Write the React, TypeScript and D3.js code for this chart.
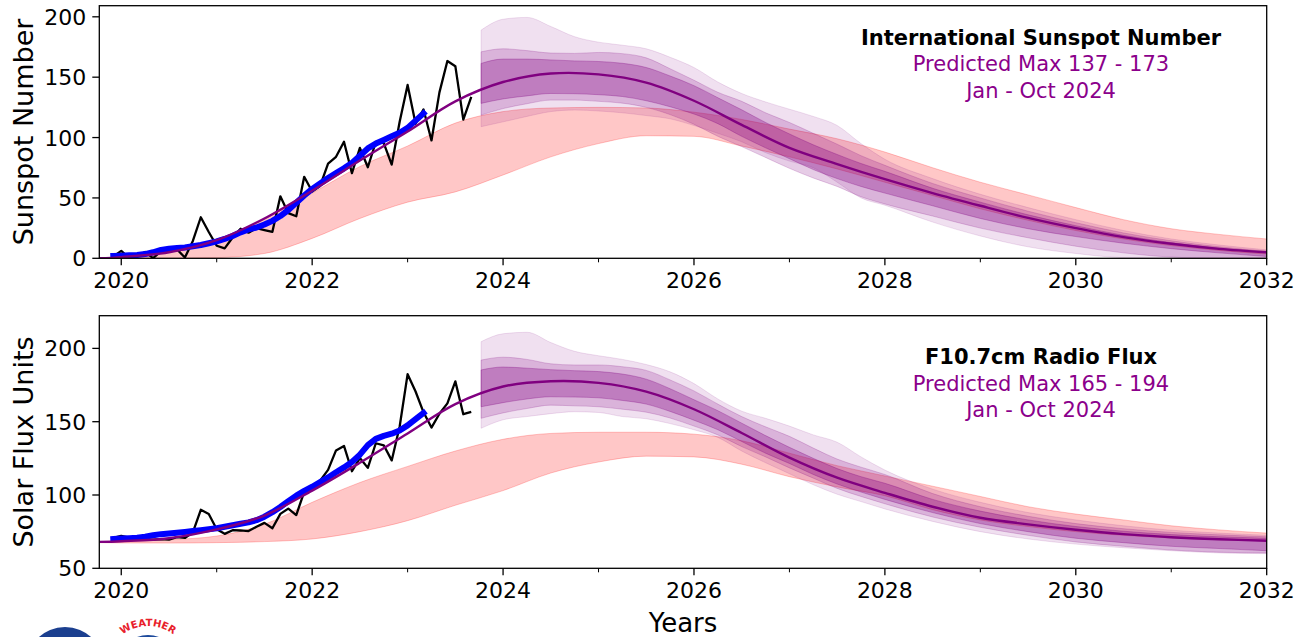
import React from "react";
import * as d3 from "d3";

const W = 1301;
const H = 637;

// observed months, Dec 2019 - Sep 2023
const obsMonths = [
  "2019-12",
  "2020-01", "2020-02", "2020-03", "2020-04", "2020-05", "2020-06",
  "2020-07", "2020-08", "2020-09", "2020-10", "2020-11", "2020-12",
  "2021-01", "2021-02", "2021-03", "2021-04", "2021-05", "2021-06",
  "2021-07", "2021-08", "2021-09", "2021-10", "2021-11", "2021-12",
  "2022-01", "2022-02", "2022-03", "2022-04", "2022-05", "2022-06",
  "2022-07", "2022-08", "2022-09", "2022-10", "2022-11", "2022-12",
  "2023-01", "2023-02", "2023-03", "2023-04", "2023-05", "2023-06",
  "2023-07", "2023-08", "2023-09",
];
const ssnMonthly = [
  1.5,
  6.2, 0.2, 1.5, 5.2, 0.2, 5.8, 6.1, 7.5, 0.6, 14.4, 34.0, 21.8,
  10.4, 8.2, 17.2, 24.5, 21.2, 25.0, 23.4, 21.9, 51.3, 37.4, 34.8, 67.5,
  55.3, 59.9, 78.5, 84.1, 96.5, 70.5, 91.4, 75.4, 96.3, 95.4, 77.6, 113.1,
  143.6, 111.4, 123.3, 97.6, 137.4, 163.4, 159.1, 114.8, 133.6,
];
const fluxMonthly = [
  70.7,
  72.1, 70.9, 70.2, 69.7, 69.5, 69.9, 69.5, 71.2, 70.7, 74.5, 89.9, 87.1,
  76.7, 73.5, 76.0, 75.8, 75.4, 78.3, 81.0, 77.3, 87.1, 90.7, 86.3, 102.2,
  105.1, 109.8, 117.1, 130.4, 133.5, 116.2, 125.2, 118.5, 135.3, 133.9, 123.6, 146.7,
  182.4, 170.6, 156.4, 146.0, 155.4, 162.5, 177.5, 155.1, 156.7,
];
// 13-month smoothed, Dec 2019 - Mar 2023
const ssnSmoothed = [
  2.0,
  2.2, 2.5, 2.8, 3.5, 5.0, 7.0, 8.0, 8.5, 9.0, 10.0, 11.0, 12.5,
  14.0, 16.0, 18.5, 21.5, 24.0, 25.5, 28.0, 31.0, 35.0, 40.0, 46.0, 52.0,
  57.5, 62.0, 66.5, 70.5, 74.5, 79.0, 85.0, 91.0, 95.0, 98.0, 101.0, 104.0,
  108.0, 114.0, 120.0,
];
const fluxSmoothed = [
  70.0,
  70.3, 70.5, 70.8, 71.5, 72.5, 73.3, 73.8, 74.3, 74.8, 75.4, 76.0, 76.6,
  77.3, 78.3, 79.4, 80.4, 81.3, 82.8, 85.2, 88.3, 91.8, 95.8, 99.6, 102.8,
  105.6, 108.8, 112.0, 115.5, 118.8, 122.5, 127.5, 134.0, 138.3, 140.3, 141.8, 144.0,
  147.5, 151.8, 156.0,
];

// predicted median and NOAA panel range
const curveYears = [
  2019.77, 2020, 2020.5, 2021, 2021.5, 2022, 2022.5, 2023, 2023.5, 2024, 2024.5,
  2025, 2025.5, 2026, 2026.5, 2027, 2027.5, 2028, 2028.5, 2029, 2029.5, 2030,
  2030.5, 2031, 2031.5, 2032,
];
const ssnMedian = [
  0, 1, 5, 15, 33, 56, 81, 105, 130, 146, 153, 152.3, 145.5, 130.5, 110.5, 91.5,
  78, 65.5, 54, 43.5, 33.5, 25, 17.5, 12, 7.8, 5,
];
const ssnPanelHi = [
  0, 1, 5, 15, 32.5, 54, 76, 93, 112, 121.5, 124.5, 125, 124.5, 121, 115, 107,
  99, 88, 75, 63, 52.5, 42, 32, 24.5, 19.8, 16,
];
const ssnPanelLo = [
  0, 0, 0, 0.5, 4, 16.5, 33, 46.5, 55, 69, 84, 95, 101.5, 101, 93, 84, 74, 63,
  52, 41, 31.5, 23, 16, 10.5, 6.5, 3.5,
];
const fluxMedian = [
  68, 68.5, 70.5, 76.5, 86, 103, 122, 142, 162, 174, 177.6, 176.5, 170.5, 158.5,
  142.3, 125.5, 111.8, 101.5, 92, 84.5, 80, 76.3, 73.3, 71.2, 69.8, 68.8,
];
const fluxPanelHi = [
  67.8, 68.2, 69.5, 72, 80, 95, 108.5, 119.5, 130, 138, 142, 142.8, 142.8, 141.5,
  137, 128.5, 120, 113, 106, 99, 92, 87, 83, 79, 76.2, 74,
];
const fluxPanelLo = [
  67.5, 67.3, 67.2, 67.5, 68.2, 70, 75, 82.5, 93, 103, 115, 122.5, 126.5, 126,
  121, 112.5, 105.5, 99.5, 90, 83, 78.5, 75, 72.5, 70.7, 69.5, 68.8,
];

// prediction quantile bands
const bandYears = [
  2023.77, 2024, 2024.25, 2024.5, 2024.75, 2025, 2025.25, 2025.5, 2025.75, 2026,
  2026.25, 2026.5, 2026.75, 2027, 2027.25, 2027.5, 2027.75, 2028, 2028.5, 2029,
  2029.5, 2030, 2030.5, 2031, 2031.5, 2032,
];
const ssnOuterHi = [
  189, 198, 199.5, 192, 183.5, 179, 176.5, 173.5, 166.5, 158, 146, 136.5, 129.5,
  123.5, 117.5, 110, 95, 82, 66, 53, 42, 32, 23, 16, 11, 7,
];
const ssnMidHi = [
  171, 173.5, 172, 170, 169.7, 170.5, 169.5, 166, 157, 147.5, 137.5, 130, 120.5,
  112.5, 103.5, 94.5, 85, 77, 62, 50, 39, 29.5, 21, 14.5, 9.5, 6,
];
const ssnInnerHi = [
  161.4, 165, 165, 164.3, 163.5, 163, 161.5, 158, 151, 143, 133, 123, 112.5, 103,
  94, 86, 78.5, 72, 58, 46.5, 36, 27, 19, 13, 8.5, 5.5,
];
const ssnInnerLo = [
  128.3, 132, 134.5, 136.5, 136.3, 135.5, 134, 130.5, 125.5, 119.5, 111.5, 101,
  91.5, 82.5, 73.5, 66, 59.5, 54, 43.5, 33, 24.5, 18, 12.5, 8, 4.5, 1.5,
];
const ssnMidLo = [
  118.6, 124, 128, 131, 131, 130, 128.5, 125, 119, 111, 101, 92.5, 83.5, 74.5,
  66.5, 59.5, 51, 45, 35, 25, 17, 10, 4.5, 1, 0, 0,
];
const ssnOuterLo = [
  109, 113, 117.5, 121.5, 122.8, 122, 120.5, 118.2, 115.5, 110, 103.5, 96.5,
  87.5, 80.5, 75, 63, 50, 44, 30, 18.5, 9.5, 4, 0.5, 0, 0, 0,
];
const fluxOuterHi = [
  204.6, 210, 211, 204, 198, 195, 192.5, 189, 184, 176, 165.5, 157.2, 152.3, 147,
  141, 136, 126, 117, 104, 95, 88, 83, 79, 76, 74, 72.5,
];
const fluxMidHi = [
  192, 194, 192.5, 189.5, 188.7, 188.7, 187.5, 185, 178.5, 171, 162, 153.5,
  146.5, 140, 132, 124.5, 119, 114, 101, 92, 85.5, 80.5, 77, 74.5, 72.8, 71.5,
];
const fluxInnerHi = [
  185.3, 187.3, 186.5, 185.5, 184.8, 184.2, 182.5, 179, 172.5, 165, 157.5, 149,
  140.5, 132.5, 125, 118, 112.5, 108, 97, 89, 83, 78.5, 75.3, 73, 71.5, 70.5,
];
const fluxInnerLo = [
  160.2, 163, 165.5, 167, 166.8, 166.3, 164.5, 162, 157, 151, 144.5, 136.5,
  128.5, 121.5, 114, 107.5, 102, 97, 88, 80.5, 75, 70.5, 67.5, 65, 63.5, 62,
];
const fluxMidLo = [
  152.3, 156, 159, 161.3, 160.8, 160.2, 158.5, 156.5, 152.5, 147, 141, 133, 126,
  118.5, 111.5, 104.5, 99, 94, 85, 78, 72.5, 68, 65, 62.5, 61, 60.5,
];
const fluxOuterLo = [
  145.5, 151.3, 153.5, 155.5, 156.8, 156.3, 153.5, 152, 148.7, 144.5, 139.3, 130,
  122, 114.5, 107, 100.5, 95.5, 90.5, 82, 75, 70, 66.5, 64, 62, 60.5, 60,
];

// axes
const xMajor = [2020, 2022, 2024, 2026, 2028, 2030, 2032];
const xMinor = [2021, 2023, 2025, 2027, 2029, 2031];
const ssnTicks = [0, 50, 100, 150, 200];
const fluxTicks = [50, 100, 150, 200];

const FONT = "'DejaVu Sans', sans-serif";
const PURPLE = "#800080";
const TEXT_PURPLE = "#8b008b";

const toYear = (s: string) => {
  const [yy, mm] = s.split("-").map(Number);
  return yy + (mm - 1) / 12;
};
const obsYears = obsMonths.map(toYear);
const smoothYears = obsYears.slice(0, ssnSmoothed.length);

const x = d3.scaleLinear().domain([2019.77, 2032]).range([99.3, 1266.7]);

type Band = { lo: number[]; hi: number[]; op: number };

type PanelProps = {
  id: string;
  y: d3.ScaleLinear<number, number>;
  ticks: number[];
  label: string;
  title: string;
  maxText: string;
  textY: number;
  obs: number[];
  smooth: number[];
  median: number[];
  panelLo: number[];
  panelHi: number[];
  bands: Band[];
};

const Panel = ({
  id, y, ticks, label, title, maxText, textY, obs, smooth, median,
  panelLo, panelHi, bands,
}: PanelProps) => {
  const [left, right] = x.range();
  const [bottom, top] = y.range();

  const straight = d3
    .line<[number, number]>()
    .x((d) => x(d[0]))
    .y((d) => y(d[1]));
  const smoothCurve = d3
    .line<[number, number]>()
    .x((d) => x(d[0]))
    .y((d) => y(d[1]))
    .curve(d3.curveCatmullRom.alpha(0.5));
  const area = (yrs: number[], lo: number[], hi: number[]) =>
    d3
      .area<number>()
      .x((d) => x(d))
      .y0((_, i) => y(lo[i]))
      .y1((_, i) => y(hi[i]))
      .curve(d3.curveMonotoneX)(yrs) || "";

  const zip = (xs: number[], vs: number[]) =>
    vs.map((v, i) => [xs[i], v] as [number, number]);

  return (
    <g>
      <defs>
        <clipPath id={id}>
          <rect x={left} y={top} width={right - left} height={bottom - top} />
        </clipPath>
      </defs>
      <g clipPath={`url(#${id})`}>
        <path
          d={area(curveYears, panelLo, panelHi)}
          fill="red"
          fillOpacity={0.22}
          stroke="red"
          strokeOpacity={0.22}
          strokeWidth={1}
        />
        {bands.map((b, i) => (
          <path
            key={i}
            d={area(bandYears, b.lo, b.hi)}
            fill={PURPLE}
            fillOpacity={b.op}
            stroke={PURPLE}
            strokeOpacity={b.op}
            strokeWidth={1}
          />
        ))}
        <path
          d={straight(zip(obsYears, obs)) || ""}
          fill="none"
          stroke="#000"
          strokeWidth={2.3}
          strokeLinejoin="round"
        />
        <path
          d={straight(zip(smoothYears, smooth)) || ""}
          fill="none"
          stroke="#0000ff"
          strokeWidth={6}
          strokeLinejoin="round"
          strokeLinecap="square"
        />
        <path
          d={smoothCurve(zip(curveYears, median)) || ""}
          fill="none"
          stroke={PURPLE}
          strokeWidth={2.4}
        />
      </g>
      <rect
        x={left}
        y={top}
        width={right - left}
        height={bottom - top}
        fill="none"
        stroke="#000"
        strokeWidth={1.3}
      />
      {xMajor.map((t) => (
        <g key={t}>
          <line x1={x(t)} x2={x(t)} y1={bottom} y2={bottom + 7} stroke="#000" strokeWidth={1.3} />
          <text
            x={x(t)}
            y={bottom + 30}
            textAnchor="middle"
            fontFamily={FONT}
            fontSize={22}
            fill="#000"
          >
            {t}
          </text>
        </g>
      ))}
      {xMinor.map((t) => (
        <line key={t} x1={x(t)} x2={x(t)} y1={bottom} y2={bottom + 4} stroke="#000" strokeWidth={1} />
      ))}
      {ticks.map((t) => (
        <g key={t}>
          <line x1={left - 7} x2={left} y1={y(t)} y2={y(t)} stroke="#000" strokeWidth={1.3} />
          <text
            x={left - 13}
            y={y(t) + 8}
            textAnchor="end"
            fontFamily={FONT}
            fontSize={22}
            fill="#000"
          >
            {t}
          </text>
        </g>
      ))}
      <text
        transform={`translate(33.3,${(top + bottom) / 2}) rotate(-90)`}
        textAnchor="middle"
        fontFamily={FONT}
        fontSize={27}
        fill="#000"
      >
        {label}
      </text>
      <g fontFamily={FONT} fontSize={21} textAnchor="middle">
        <text x={1041} y={textY} fontWeight="bold" fill="#000">
          {title}
        </text>
        <text x={1041} y={textY + 26.7} fill={TEXT_PURPLE}>
          {maxText}
        </text>
        <text x={1041} y={textY + 53.4} fill={TEXT_PURPLE}>
          Jan - Oct 2024
        </text>
      </g>
    </g>
  );
};

const yTop = d3.scaleLinear().domain([0, 209.2]).range([258.3, 5.7]);
const yBot = d3.scaleLinear().domain([50, 222.3]).range([568.3, 315.7]);

const ssnBands: Band[] = [
  { lo: ssnOuterLo, hi: ssnOuterHi, op: 0.12 },
  { lo: ssnMidLo, hi: ssnMidHi, op: 0.2 },
  { lo: ssnInnerLo, hi: ssnInnerHi, op: 0.3 },
];
const fluxBands: Band[] = [
  { lo: fluxOuterLo, hi: fluxOuterHi, op: 0.12 },
  { lo: fluxMidLo, hi: fluxMidHi, op: 0.2 },
  { lo: fluxInnerLo, hi: fluxInnerHi, op: 0.3 },
];

export default function App() {
  return (
    <svg
      width={W}
      height={H}
      style={{ position: "absolute", left: 0, top: 0, background: "#fff" }}
    >
      <rect width={W} height={H} fill="#fff" />
      <Panel
        id="clip-ssn"
        y={yTop}
        ticks={ssnTicks}
        label="Sunspot Number"
        title="International Sunspot Number"
        maxText="Predicted Max 137 - 173"
        textY={44.5}
        obs={ssnMonthly}
        smooth={ssnSmoothed}
        median={ssnMedian}
        panelLo={ssnPanelLo}
        panelHi={ssnPanelHi}
        bands={ssnBands}
      />
      <Panel
        id="clip-flux"
        y={yBot}
        ticks={fluxTicks}
        label="Solar Flux Units"
        title="F10.7cm Radio Flux"
        maxText="Predicted Max 165 - 194"
        textY={364}
        obs={fluxMonthly}
        smooth={fluxSmoothed}
        median={fluxMedian}
        panelLo={fluxPanelLo}
        panelHi={fluxPanelHi}
        bands={fluxBands}
      />
      <text
        x={683}
        y={632}
        textAnchor="middle"
        fontFamily={FONT}
        fontSize={26}
        fill="#000"
      >
        Years
      </text>
      {/* logos, cut off at the bottom edge */}
      <circle cx={65} cy={666} r={39} fill="#1b3f8f" />
      <defs>
        <path id="nws-arc" d="M 106 668 A 42 42 0 0 1 190 668" />
      </defs>
      <circle cx={148} cy={666} r={31} fill="#1d4a9c" />
      <text fontFamily={FONT} fontSize={10} fontWeight="bold" fill="#e8202a">
        <textPath href="#nws-arc" startOffset="50%" textAnchor="middle">
          WEATHER
        </textPath>
      </text>
    </svg>
  );
}
